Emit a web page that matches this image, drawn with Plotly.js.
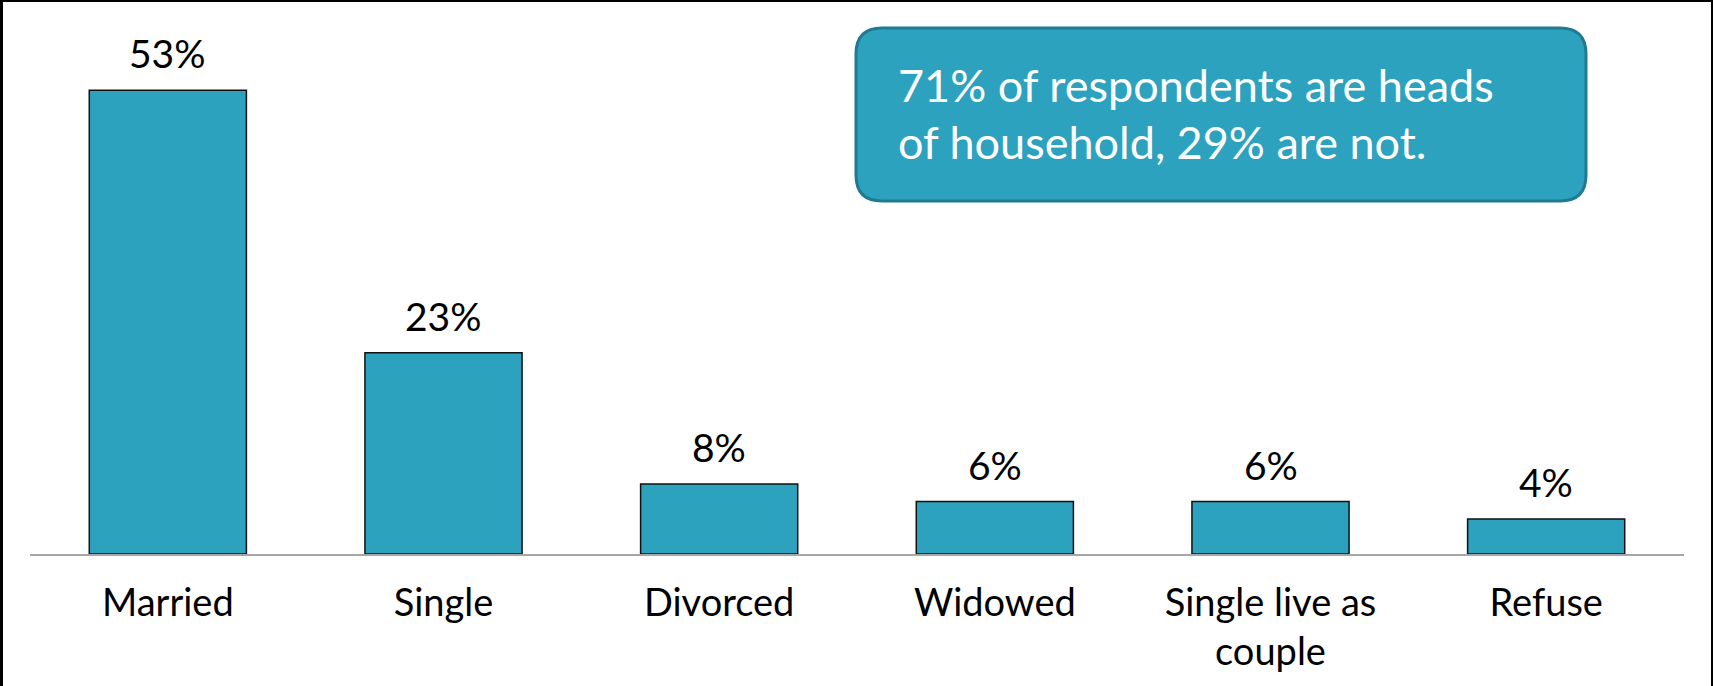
<!DOCTYPE html>
<html>
<head>
<meta charset="utf-8">
<script src="https://cdn.plot.ly/plotly-3.0.1.min.js"></script>
<style>
  html, body { margin: 0; padding: 0; background: #ffffff; }
  #wrap { position: relative; width: 1713px; height: 686px; overflow: hidden; }
  #chart { position: absolute; left: 0; top: 0; width: 1713px; height: 686px; }
  #frame { position: absolute; left: 0; top: 0; width: 1708px; height: 700px;
           border-left: 3px solid #000; border-top: 2px solid #000; border-right: 2px solid #000;
           pointer-events: none; }
</style>
</head>
<body>
<div id="wrap">
  <div id="chart"></div>
  <div id="frame"></div>
</div>
<script>
// ---- data ----
var categories = ["Married", "Single", "Divorced", "Widowed", "Single live as couple", "Refuse"];
var tickLabels = ["Married", "Single", "Divorced", "Widowed", "Single live as<br>couple", "Refuse"];
var values = [53, 23, 8, 6, 6, 4];
var valueLabels = ["53%", "23%", "8%", "6%", "6%", "4%"];
var calloutLines = ["71% of respondents are heads", "of household, 29% are not."];

// ---- layout helpers (pixels -> paper) ----
var W = 1713, H = 686;
var mL = 30, mR = 29, mT = 29, mB = 132;
var plotW = W - mL - mR, plotH = H - mT - mB;
function px2x(px) { return (px - mL) / plotW; }
function py2y(py) { return (H - mB - py) / plotH; }

function roundedRect(x0, y0, x1, y1, r) {
  var p = [];
  p.push('M' + px2x(x0 + r) + ',' + py2y(y0));
  p.push('L' + px2x(x1 - r) + ',' + py2y(y0));
  p.push('Q' + px2x(x1) + ',' + py2y(y0) + ' ' + px2x(x1) + ',' + py2y(y0 + r));
  p.push('L' + px2x(x1) + ',' + py2y(y1 - r));
  p.push('Q' + px2x(x1) + ',' + py2y(y1) + ' ' + px2x(x1 - r) + ',' + py2y(y1));
  p.push('L' + px2x(x0 + r) + ',' + py2y(y1));
  p.push('Q' + px2x(x0) + ',' + py2y(y1) + ' ' + px2x(x0) + ',' + py2y(y1 - r));
  p.push('L' + px2x(x0) + ',' + py2y(y0 + r));
  p.push('Q' + px2x(x0) + ',' + py2y(y0) + ' ' + px2x(x0 + r) + ',' + py2y(y0));
  p.push('Z');
  return p.join(' ');
}

var FONT = 'Lato, "Noto Sans", sans-serif';

var trace = {
  type: 'bar',
  x: categories,
  y: values,
  marker: { color: '#2CA2BF', line: { color: '#111111', width: 1.5 } },
  hoverinfo: 'skip'
};

var annotations = categories.map(function (c, i) {
  return {
    x: c, y: values[i], xref: 'x', yref: 'y',
    text: valueLabels[i], showarrow: false,
    xanchor: 'center', yanchor: 'bottom', yshift: 12,
    font: { family: FONT, size: 39, color: '#000000' }
  };
});

calloutLines.forEach(function (t, i) {
  annotations.push({
    x: px2x(896), y: py2y(i === 0 ? 85 : 142), xref: 'paper', yref: 'paper',
    text: t, showarrow: false, xanchor: 'left', yanchor: 'middle', align: 'left',
    font: { family: FONT, size: 45, color: '#ffffff' }
  });
});

var layout = {
  width: W, height: H,
  margin: { l: mL, r: mR, t: mT, b: mB, pad: 0 },
  paper_bgcolor: '#ffffff', plot_bgcolor: '#ffffff',
  showlegend: false,
  bargap: 0.43,
  xaxis: {
    type: 'category',
    tickvals: categories, ticktext: tickLabels,
    showline: true, linecolor: '#A6A6A6', linewidth: 2,
    ticks: '', showgrid: false, zeroline: false,
    ticklabelstandoff: 14,
    tickfont: { family: FONT, size: 38, color: '#000000' },
    fixedrange: true
  },
  yaxis: {
    range: [0, 60], visible: false, showgrid: false, zeroline: false, fixedrange: true
  },
  shapes: [{
    type: 'path', xref: 'paper', yref: 'paper',
    path: roundedRect(856, 28, 1586, 201, 26),
    fillcolor: '#2CA2BF', line: { color: '#1F7A92', width: 3 }, layer: 'above'
  }],
  annotations: annotations
};

Plotly.newPlot('chart', [trace], layout, { displayModeBar: false, staticPlot: true });
</script>
</body>
</html>
